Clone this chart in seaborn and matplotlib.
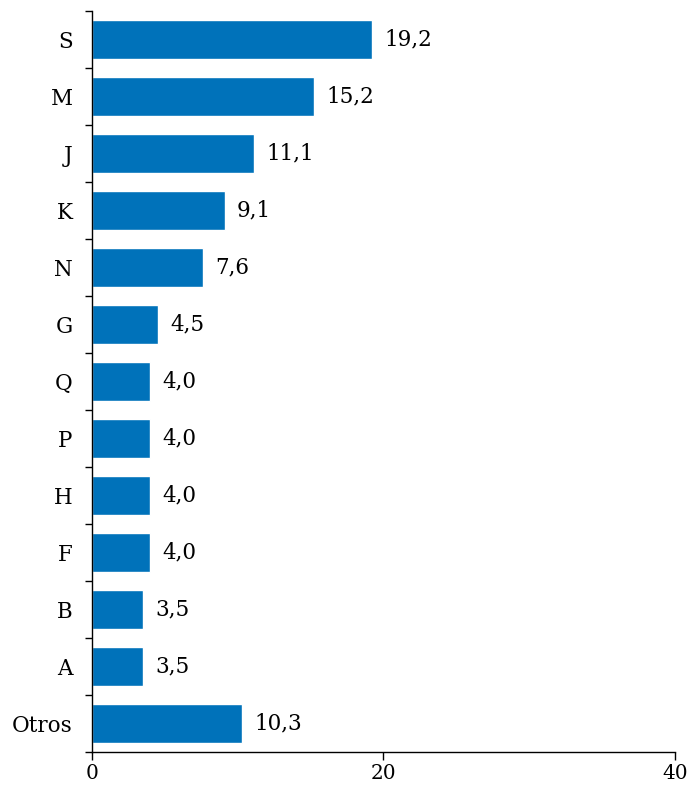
import matplotlib
matplotlib.use("Agg")
import matplotlib.pyplot as plt
import seaborn as sns
import pandas as pd
from matplotlib.ticker import FixedLocator

categories = ["S", "M", "J", "K", "N", "G", "Q", "P", "H", "F", "B", "A", "Otros"]
values = [19.2, 15.2, 11.1, 9.1, 7.6, 4.5, 4.0, 4.0, 4.0, 4.0, 3.5, 3.5, 10.3]
x_ticks = [0, 20, 40]

sns.set_theme(style="white")
plt.rcParams["font.family"] = ["DejaVu Serif"]

df = pd.DataFrame({"sector": categories, "valor": values})

fig = plt.figure(figsize=(6.88, 7.86), dpi=100)
ax = fig.add_axes([0.1337, 0.0433, 0.981 - 0.1337, 0.986 - 0.0433])

sns.barplot(data=df, y="sector", x="valor", orient="h", color="#0072BA",
            saturation=1, width=0.7, ax=ax)

ax.set_xlim(0, 40)
ax.set_ylim(len(categories) - 0.5, -0.5)
ax.set_xticks(x_ticks)
ax.set_xticklabels([str(t) for t in x_ticks])
ax.set_xlabel("")
ax.set_ylabel("")

for s in ["top", "right"]:
    ax.spines[s].set_visible(False)
for s in ["left", "bottom"]:
    ax.spines[s].set_color("black")
    ax.spines[s].set_linewidth(1.0)

ax.yaxis.set_minor_locator(FixedLocator([i - 0.5 for i in range(len(categories) + 1)]))
ax.tick_params(axis="y", which="major", length=0, pad=14, labelsize=15.5, colors="black")
ax.tick_params(axis="y", which="minor", length=5, width=1.0, color="black", left=True)
ax.tick_params(axis="x", which="major", length=6, width=1.0, color="black",
               bottom=True, pad=3, labelsize=14.5, labelcolor="black")

labels = [f"{v:.1f}".replace(".", ",") for v in values]
ax.bar_label(ax.containers[0], labels=labels, padding=9, fontsize=15.5, color="black")

fig.savefig("out.png", dpi=100)
